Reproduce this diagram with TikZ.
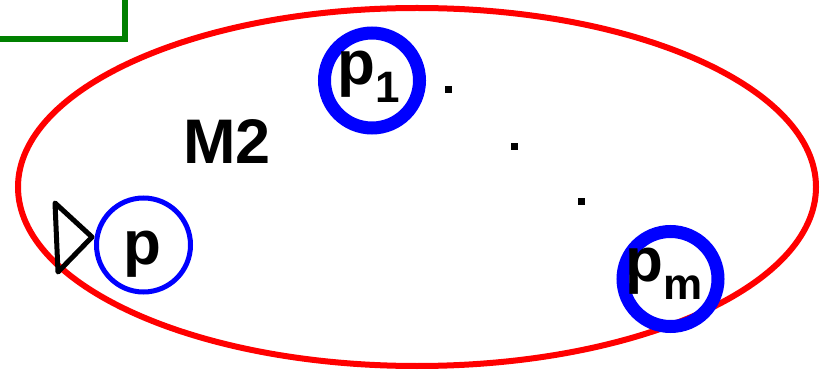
\documentclass[tikz,border=0pt]{standalone}
\usepackage{fontspec}
\setmainfont{Liberation Sans}
\definecolor{fgreen}{RGB}{0,128,0}
\definecolor{fblue}{RGB}{0,0,255}
\definecolor{fred}{RGB}{255,0,0}
\tikzset{
  thickstate/.style={draw=fblue, line width=13pt, circle, minimum size=95pt, inner sep=0pt},
  thinstate/.style={draw=fblue, line width=5pt, circle, minimum size=94pt, inner sep=0pt},
  bigtxt/.style={font=\fontsize{62}{62}\selectfont\bfseries, inner sep=0pt, anchor=base west},
  dotmark/.style={fill=black, minimum size=7pt, inner sep=0pt, rectangle},
}
\newcommand{\subtxt}[1]{\raisebox{-18pt}{\fontsize{44}{44}\selectfont\bfseries #1}}
\begin{document}
\begin{tikzpicture}[x=1pt,y=-1pt]
\useasboundingbox (0,0) rectangle (827,371);
% green box (partly outside)
\draw[fgreen, line width=6pt] (-10,39.5) -- (125,39.5) -- (125,-10);
% red ellipse
\draw[fred, line width=6pt] (417,187) ellipse [x radius=399, y radius=179];
% states
\node[thickstate] (p1) at (372,80.5) {};
\node[thickstate] (pm) at (670.5,279) {};
\node[thinstate] (p) at (143.5,245) {};
% labels
\node[bigtxt] (p1t) at (337,84.5) {p\subtxt{1}};
\node[bigtxt] (pmt) at (625,282) {p\subtxt{m}};
\node[bigtxt] (pt) at (123,265) {p};
\node[bigtxt, font=\fontsize{63}{63}\selectfont\bfseries] (m2) at (183,164) {M2};
% dots
\node[dotmark] (d1) at (448,90) {};
\node[dotmark] (d2) at (514,147) {};
\node[dotmark] (d3) at (581,202) {};
% initial marker
\draw[black, line width=5pt, line join=round, line cap=round] (55,203) -- (92,237) -- (58,272) -- cycle;
\end{tikzpicture}
\end{document}
